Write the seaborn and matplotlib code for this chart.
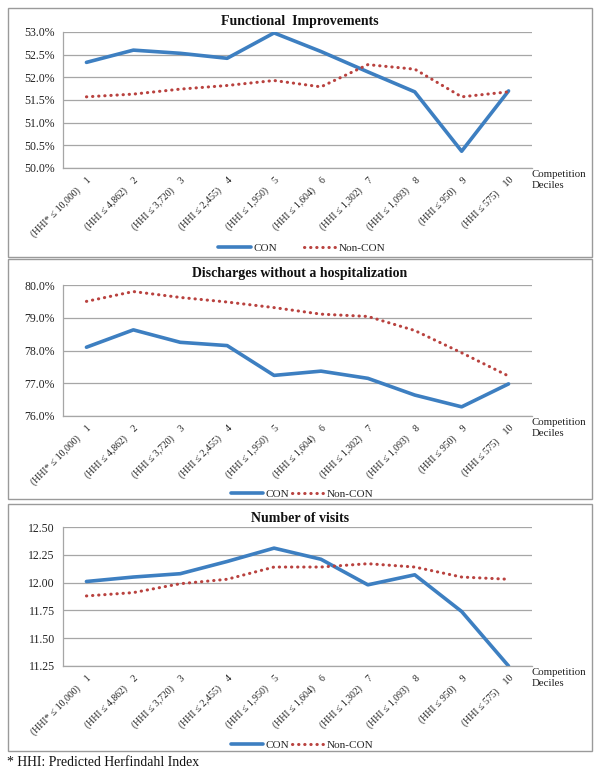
import matplotlib
matplotlib.use("Agg")
import matplotlib.pyplot as plt
import seaborn as sns
import pandas as pd
from matplotlib.lines import Line2D
from matplotlib.patches import Rectangle
from matplotlib.ticker import FuncFormatter

# -------------------------------------------------------------------
# Data
# -------------------------------------------------------------------
deciles = list(range(1, 11))
hhi_labels = ["(HHI* \u2264 10,000)", "(HHI \u2264 4,862)", "(HHI \u2264 3,720)",
              "(HHI \u2264 2,455)", "(HHI \u2264 1,950)", "(HHI \u2264 1,604)",
              "(HHI \u2264 1,302)", "(HHI \u2264 1,093)", "(HHI \u2264 950)",
              "(HHI \u2264 575)"]

func_con = [52.33, 52.60, 52.53, 52.42, 52.98, 52.57, 52.12, 51.68, 50.37, 51.70]
func_noncon = [51.57, 51.63, 51.74, 51.82, 51.93, 51.79, 52.28, 52.18, 51.57, 51.68]

disch_con = [78.10, 78.63, 78.25, 78.15, 77.24, 77.37, 77.15, 76.64, 76.28, 76.98]
disch_noncon = [79.50, 79.80, 79.62, 79.48, 79.31, 79.11, 79.04, 78.61, 77.93, 77.22]

visits_con = [12.01, 12.05, 12.08, 12.19, 12.31, 12.21, 11.98, 12.07, 11.74, 11.25]
visits_noncon = [11.88, 11.91, 11.99, 12.03, 12.14, 12.14, 12.17, 12.14, 12.05, 12.03]

titles = ["Functional  Improvements", "Discharges without a hospitalization",
          "Number of visits"]

CON_COLOR = "#3d7fc1"
NONCON_COLOR = "#b9423f"
GRID_COLOR = "#a6a6a6"
DOTS = (0, (0.1, 1.9))

W, H = 601, 776

sns.set_style("white")
plt.rcParams["font.family"] = ["Liberation Serif", "DejaVu Serif"]

fig = plt.figure(figsize=(W / 100, H / 100), dpi=100)


def px_rect(left, right, top, bottom):
    return [left / W, 1 - bottom / H, (right - left) / W, (bottom - top) / H]


# panel layout in pixels: axes box, title y, legend y, outer frame
panels = [
    dict(con=func_con, noncon=func_noncon, ylim=(50.0, 53.0), step=0.5,
         fmt=lambda v, p: f"{v:.1f}%", ax=(63, 532, 32, 168),
         title_y=22, legend_y=248, colspace=2.4, frame=(8, 592, 8, 257)),
    dict(con=disch_con, noncon=disch_noncon, ylim=(76.0, 80.0), step=1.0,
         fmt=lambda v, p: f"{v:.1f}%", ax=(63, 532, 285, 416),
         title_y=273, legend_y=494, colspace=0.2, frame=(8, 592, 259, 499)),
    dict(con=visits_con, noncon=visits_noncon, ylim=(11.25, 12.50), step=0.25,
         fmt=lambda v, p: f"{v:.2f}", ax=(63, 532, 527, 666),
         title_y=518, legend_y=745, colspace=0.2, frame=(8, 592, 504, 751)),
]

for i, p in enumerate(panels):
    ax = fig.add_axes(px_rect(*p["ax"]))
    df = pd.DataFrame({"decile": deciles, "CON": p["con"], "Non-CON": p["noncon"]})

    sns.lineplot(data=df, x="decile", y="CON", ax=ax, color=CON_COLOR,
                 linewidth=2.6, solid_capstyle="round")
    sns.lineplot(data=df, x="decile", y="Non-CON", ax=ax, color=NONCON_COLOR,
                 linewidth=2.2, linestyle=DOTS, dash_capstyle="round")

    lo, hi = p["ylim"]
    ax.set_xlim(0.5, 10.5)
    ax.set_ylim(lo, hi)
    n = int(round((hi - lo) / p["step"]))
    yt = [lo + k * p["step"] for k in range(n + 1)]
    ax.set_yticks(yt)
    ax.yaxis.set_major_formatter(FuncFormatter(p["fmt"]))
    ax.grid(axis="y", color=GRID_COLOR, linewidth=0.9)
    ax.set_axisbelow(True)
    ax.tick_params(axis="y", length=0, pad=5.8, labelsize=8.5, labelcolor="#222222")

    ax.set_xticks(deciles)
    ax.set_xticklabels([f"{h}    {d}" for h, d in zip(hhi_labels, deciles)],
                       rotation=45, ha="right", rotation_mode="anchor",
                       fontsize=7, color="#222222")
    ax.tick_params(axis="x", length=0, pad=5)
    ax.set_xticks([k + 0.5 for k in range(10)], minor=True)
    ax.tick_params(axis="x", which="minor", length=4, color=GRID_COLOR, width=0.9)
    ax.set_xlabel("")
    ax.set_ylabel("")

    for side in ["top", "right"]:
        ax.spines[side].set_visible(False)
    for side in ["left", "bottom"]:
        ax.spines[side].set_color(GRID_COLOR)
        ax.spines[side].set_linewidth(0.9)

    # panel title
    fig.text(300 / W, 1 - p["title_y"] / H, titles[i], ha="center", va="center",
             fontsize=10, fontweight="bold", color="#111111")

    # axis caption on the right
    fig.text(532 / W, 1 - (p["ax"][3] + 2) / H, "Competition\nDeciles",
             ha="left", va="top", fontsize=7.8, color="#222222", linespacing=1.25)

    # legend below
    handles = [
        Line2D([], [], color=CON_COLOR, linewidth=2.6),
        Line2D([], [], color=NONCON_COLOR, linewidth=2.2,
               linestyle=DOTS, dash_capstyle="round"),
    ]
    fig.legend(handles, ["CON", "Non-CON"], loc="center",
               bbox_to_anchor=(302 / W, 1 - p["legend_y"] / H), ncol=2,
               frameon=False, fontsize=8, handlelength=2.9, handletextpad=0.25,
               columnspacing=p["colspace"], borderpad=0)

    # outer frame of the panel
    fl, fr, ft, fb = p["frame"]
    fig.add_artist(Rectangle((fl / W, 1 - fb / H), (fr - fl) / W, (fb - ft) / H,
                             transform=fig.transFigure, fill=False,
                             edgecolor="#9a9a9a", linewidth=1.0))

fig.text(7 / W, 1 - 763 / H, "* HHI: Predicted Herfindahl Index",
         ha="left", va="center", fontsize=9.9, color="#111111")

fig.savefig("out.png", dpi=100)
plt.close(fig)
